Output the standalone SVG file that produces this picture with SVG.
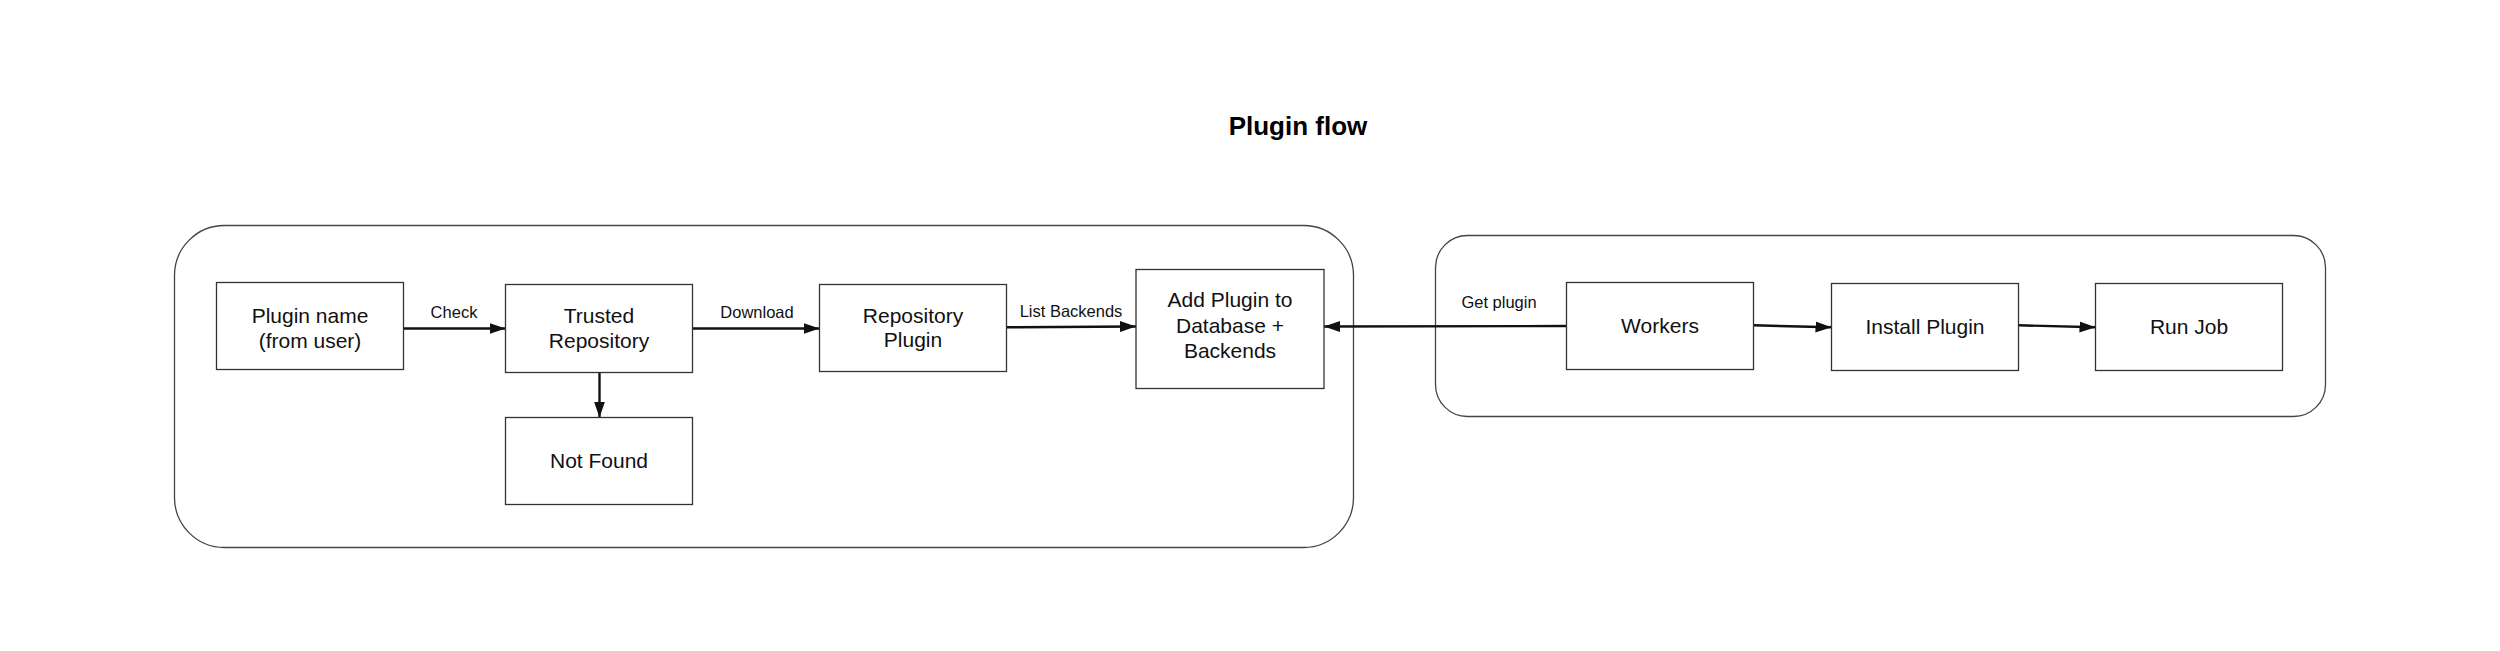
<svg xmlns="http://www.w3.org/2000/svg" width="2500" height="651" viewBox="0 0 2500 651">
<defs>
<style>
.container{fill:none;stroke:#444;stroke-width:1.3}
.box{fill:#fff;stroke:#333;stroke-width:1.3}
.t{font-family:"Liberation Sans",Arial,sans-serif;font-size:21px;fill:#111;text-anchor:middle}
.lbl{font-family:"Liberation Sans",Arial,sans-serif;font-size:16.5px;fill:#111;text-anchor:middle}
.title{font-family:"Liberation Sans",Arial,sans-serif;font-size:26px;font-weight:bold;fill:#000;text-anchor:middle}
.edge{fill:none;stroke:#111;stroke-width:2.4}
</style>
<marker id="arrow" markerUnits="userSpaceOnUse" markerWidth="17" markerHeight="12" refX="16" refY="5.5" orient="auto">
<path d="M0,0 L16,5.5 L0,11 z" fill="#111"/>
</marker>
</defs>
<rect width="2500" height="651" fill="#fff"/>
<text class="title" x="1298" y="135">Plugin flow</text>
<g id="containers">
<rect class="container" x="174.5" y="225.5" width="1179" height="322" rx="50" ry="50"/>
<rect class="container" x="1435.5" y="235.5" width="890" height="181" rx="32" ry="32"/>
</g>
<g id="connectors">
<line class="edge" x1="403.5" y1="328.5" x2="505.5" y2="328.5" marker-end="url(#arrow)"/>
<text class="lbl" x="454" y="318">Check</text>
<line class="edge" x1="692.5" y1="328.5" x2="819.5" y2="328.5" marker-end="url(#arrow)"/>
<text class="lbl" x="757" y="318">Download</text>
<line class="edge" x1="599.5" y1="372" x2="599.5" y2="417.5" marker-end="url(#arrow)"/>
<line class="edge" x1="1006.5" y1="327.3" x2="1136" y2="326.5" marker-end="url(#arrow)"/>
<text class="lbl" x="1071" y="317">List Backends</text>
<line class="edge" x1="1566.5" y1="326" x2="1324" y2="326.5" marker-end="url(#arrow)"/>
<text class="lbl" x="1499" y="308">Get plugin</text>
<line class="edge" x1="1753.5" y1="325.3" x2="1831.5" y2="327.3" marker-end="url(#arrow)"/>
<line class="edge" x1="2018.5" y1="325.3" x2="2095.5" y2="327.3" marker-end="url(#arrow)"/>
</g>
<g id="plugin-name">
<rect class="box" x="216.5" y="282.5" width="187" height="87"/>
<text class="t" x="310" y="322.7">Plugin name</text>
<text class="t" x="310" y="347.7">(from user)</text>
</g>
<g id="trusted-repository">
<rect class="box" x="505.5" y="284.5" width="187" height="88"/>
<text class="t" x="599" y="322.7">Trusted</text>
<text class="t" x="599" y="347.7">Repository</text>
</g>
<g id="not-found">
<rect class="box" x="505.5" y="417.5" width="187" height="87"/>
<text class="t" x="599" y="467.7">Not Found</text>
</g>
<g id="repository-plugin">
<rect class="box" x="819.5" y="284.5" width="187" height="87"/>
<text class="t" x="913" y="322.7">Repository</text>
<text class="t" x="913" y="346.7">Plugin</text>
</g>
<g id="add-plugin">
<rect class="box" x="1136" y="269.5" width="188" height="119"/>
<text class="t" x="1230" y="306.7">Add Plugin to</text>
<text class="t" x="1230" y="332.7">Database +</text>
<text class="t" x="1230" y="357.7">Backends</text>
</g>
<g id="workers">
<rect class="box" x="1566.5" y="282.5" width="187" height="87"/>
<text class="t" x="1660" y="333.3">Workers</text>
</g>
<g id="install-plugin">
<rect class="box" x="1831.5" y="283.5" width="187" height="87"/>
<text class="t" x="1925" y="334.3">Install Plugin</text>
</g>
<g id="run-job">
<rect class="box" x="2095.5" y="283.5" width="187" height="87"/>
<text class="t" x="2189" y="334.3">Run Job</text>
</g>
</svg>
